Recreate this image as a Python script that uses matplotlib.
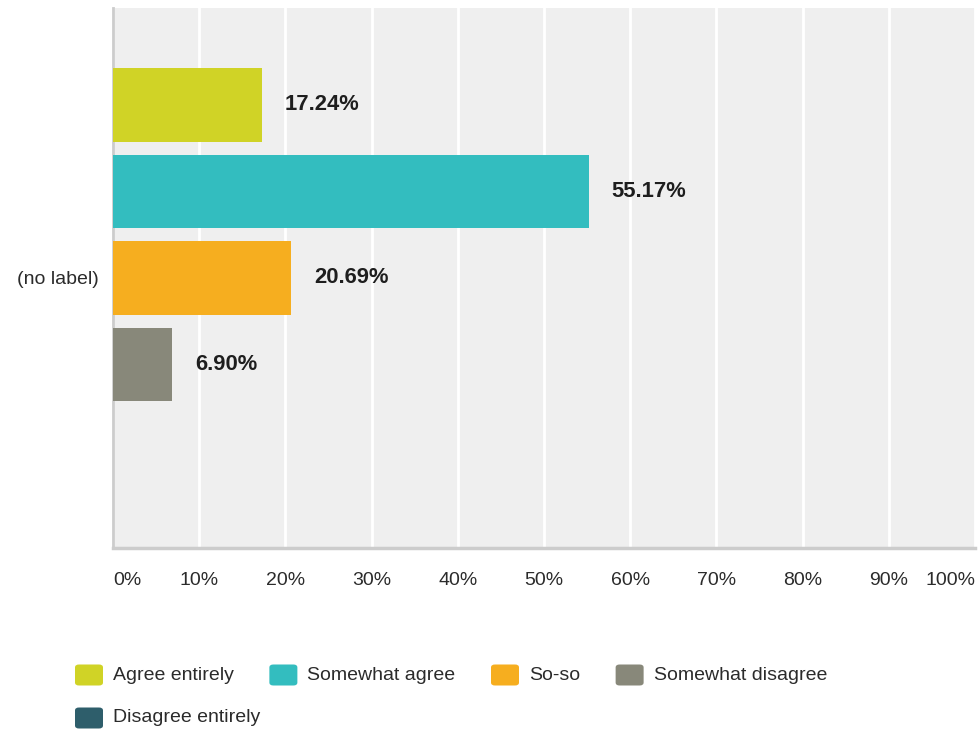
import matplotlib
matplotlib.use("Agg")
import matplotlib.pyplot as plt
from matplotlib.patches import FancyBboxPatch

plt.rcParams['font.family'] = ['Liberation Sans', 'DejaVu Sans']

category = "(no label)"
answers = ["Agree entirely", "Somewhat agree", "So-so", "Somewhat disagree", "Disagree entirely"]
percent = [17.24, 55.17, 20.69, 6.90, 0.0]
colors = ["#D0D326", "#33BDBF", "#F6AE1F", "#88887A", "#2E5E6B"]
xticks = [0, 10, 20, 30, 40, 50, 60, 70, 80, 90, 100]
xtick_labels = ["0%", "10%", "20%", "30%", "40%", "50%", "60%", "70%", "80%", "90%", "100%"]

W, H, DPI = 980, 731, 100
fig = plt.figure(figsize=(W / DPI, H / DPI), dpi=DPI)
ax = fig.add_axes([113 / W, 183 / H, 862 / W, 540 / H])
ax.set_facecolor("#EFEFEF")

n = len(answers)
step = 1.0
bar_h = 0.844
offsets = [(i - (n - 1) / 2) * step for i in range(n)]
ax.barh(offsets, percent, height=bar_h, color=colors, zorder=3)

for y, v in zip(offsets, percent):
    if v > 0:
        ax.annotate(f"{v:.2f}%", xy=(v, y), xytext=(23, 0), textcoords="offset pixels",
                    ha="left", va="center", fontsize=15.8, fontweight="bold",
                    color="#1E1E1E", zorder=4)

half = 540 / 86.5 / 2
ax.set_ylim(half, -half)
ax.set_xlim(0, 100)

ax.set_xticks(xticks)
ax.set_xticklabels(xtick_labels)
for i, lab in enumerate(ax.get_xticklabels()):
    if i == 0:
        lab.set_ha("left")
    elif i == len(xticks) - 1:
        lab.set_ha("right")
ax.set_yticks([0])
ax.set_yticklabels([category])
ax.tick_params(axis="x", length=0, pad=17, labelsize=14, labelcolor="#2B2B2B")
ax.tick_params(axis="y", length=0, pad=10, labelsize=14, labelcolor="#2B2B2B")

ax.grid(axis="x", color="white", linewidth=2, zorder=1)
ax.grid(axis="y", visible=False)
for side in ("top", "right"):
    ax.spines[side].set_visible(False)
ax.spines["left"].set_color("#CCCCCC")
ax.spines["left"].set_linewidth(2)
ax.spines["bottom"].set_color("#CCCCCC")
ax.spines["bottom"].set_linewidth(2.5)

# legend laid out as a flowing row of swatches with wrapping
renderer = fig.canvas.get_renderer()
x0, x = 75, 75
row_y = [675, 718]
row = 0
sw_w, sw_h = 28, 21
text_gap, item_gap = 38, 35.5
for name, c in zip(answers, colors):
    t = fig.text(0, 0, name, fontsize=14, color="#2B2B2B", va="center", ha="left")
    tw = t.get_window_extent(renderer).width
    if x + text_gap + tw > W - 5:
        row += 1
        x = x0
    yc = H - row_y[row]
    sw = FancyBboxPatch((x / W, (yc - sw_h / 2) / H), sw_w / W, sw_h / H,
                        boxstyle="round,pad=0,rounding_size=0.004",
                        transform=fig.transFigure, facecolor=c, edgecolor="none")
    fig.patches.append(sw)
    t.set_position(((x + text_gap) / W, yc / H))
    x = x + text_gap + tw + item_gap

fig.savefig("out.png", dpi=DPI)
